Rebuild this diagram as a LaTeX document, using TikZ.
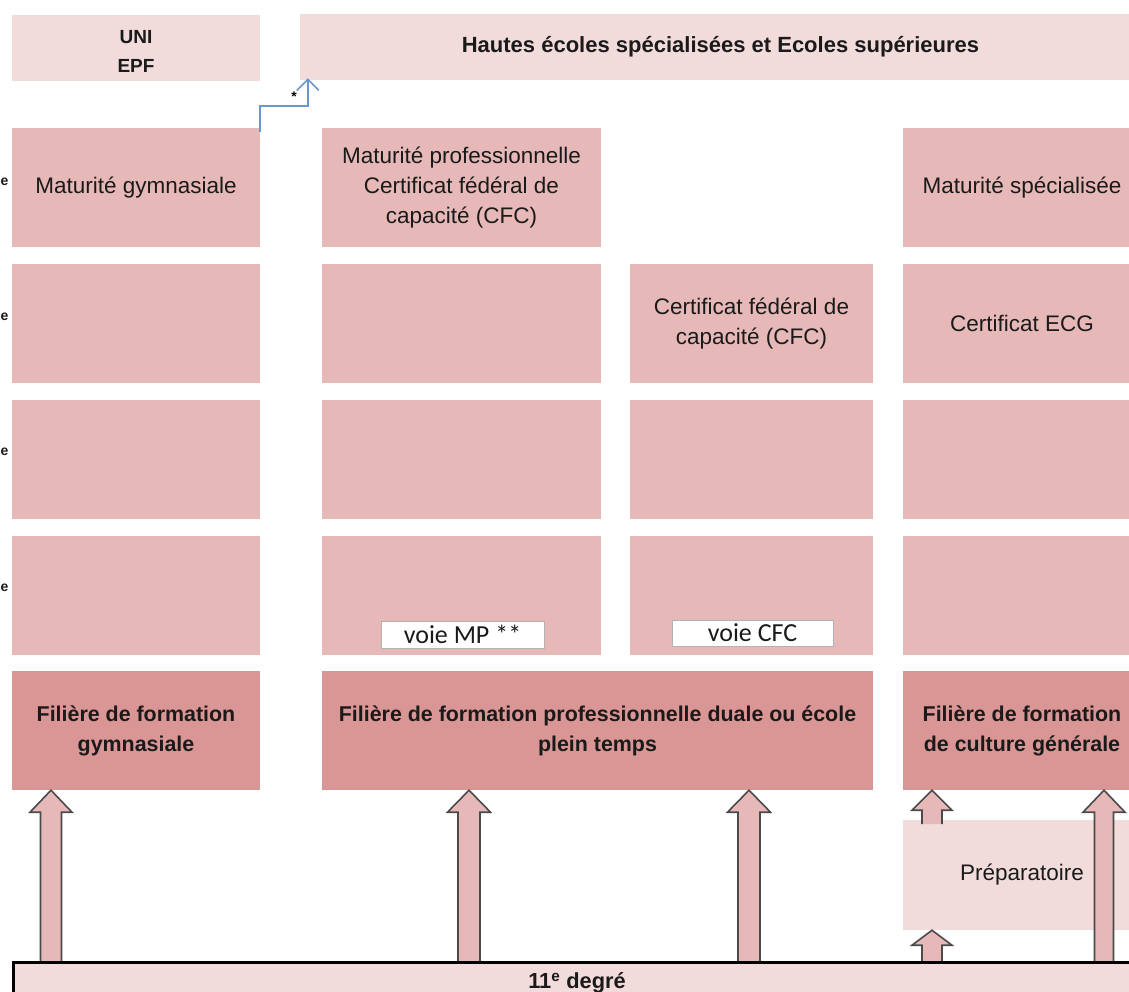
\documentclass[tikz,border=0pt]{standalone}
\usepackage{fontspec}
\setmainfont{Liberation Sans}
\newfontfamily\calib{Carlito}
\usetikzlibrary{calc,arrows.meta}
\definecolor{lightpk}{HTML}{F2DCDB}
\definecolor{midpk}{HTML}{E6B9B8}
\definecolor{darkpk}{HTML}{DA9694}
\definecolor{txt}{HTML}{1A1A1A}
\definecolor{bluel}{HTML}{6A96CF}
\definecolor{arrline}{HTML}{4A4A4A}
\newcommand\blockarr[5]{%
  \draw[blockst] let \p1=(#1), \p2=(#2) in
    (\x1-#3pt,\y1) -- (\x1-#3pt,\y2-#5pt) -- (\x1-#4pt,\y2-#5pt) -- (\x1,\y2)
    -- (\x1+#4pt,\y2-#5pt) -- (\x1+#3pt,\y2-#5pt) -- (\x1+#3pt,\y1);}
\begin{document}
\begin{tikzpicture}[x=1pt,y=-1pt,
  cell/.style={fill=midpk, draw=none, inner sep=0pt, align=center, text=txt,
    font=\fontsize{22.5}{30}\selectfont},
  lcell/.style={cell, fill=lightpk},
  dcell/.style={cell, fill=darkpk, font=\fontsize{21.4}{30}\selectfont\bfseries},
  tag/.style={fill=white, draw=gray!60, line width=1pt, inner sep=0pt, text=txt,
    font=\calib\fontsize{26}{26}\selectfont},
  blockst/.style={fill=midpk, draw=arrline, line width=1.6pt, line join=miter},
  yearmark/.style={font=\fontsize{14}{14}\selectfont\bfseries, text=txt, inner sep=0pt, anchor=west}]
\useasboundingbox (0,0) rectangle (1129,992);
% top row
\node[lcell, minimum width=248, minimum height=66] (uni) at (136,48) {};
\node[font=\fontsize{19}{29}\selectfont\bfseries, text=txt, align=center, inner sep=0pt] (unitxt) at (136,51) {UNI\\EPF};
\node[lcell, minimum width=841, minimum height=66, font=\fontsize{22}{28}\selectfont\bfseries] (hes) at (720.5,47) {Hautes écoles spécialisées et Ecoles supérieures};
% row 1
\node[cell, minimum width=248, minimum height=119] (mg) at (136,187.5) {Maturité gymnasiale};
\node[cell, minimum width=279, minimum height=119] (mp) at (461.5,187.5) {Maturité professionnelle\\Certificat fédéral de\\capacité (CFC)};
\node[cell, minimum width=238, minimum height=119] (ms) at (1022,187.5) {Maturité spécialisée};
% row 2
\node[cell, minimum width=248, minimum height=119] (a2) at (136,323.5) {};
\node[cell, minimum width=279, minimum height=119] (b2) at (461.5,323.5) {};
\node[cell, minimum width=243, minimum height=119] (cfc) at (751.5,323.5) {Certificat fédéral de\\capacité (CFC)};
\node[cell, minimum width=238, minimum height=119] (ecg) at (1022,323.5) {Certificat ECG};
% row 3
\node[cell, minimum width=248, minimum height=119] (a3) at (136,459.5) {};
\node[cell, minimum width=279, minimum height=119] (b3) at (461.5,459.5) {};
\node[cell, minimum width=243, minimum height=119] (c3) at (751.5,459.5) {};
\node[cell, minimum width=238, minimum height=119] (d3) at (1022,459.5) {};
% row 4
\node[cell, minimum width=248, minimum height=119] (a4) at (136,595.5) {};
\node[cell, minimum width=279, minimum height=119] (b4) at (461.5,595.5) {};
\node[cell, minimum width=243, minimum height=119] (c4) at (751.5,595.5) {};
\node[cell, minimum width=238, minimum height=119] (d4) at (1022,595.5) {};
\node[tag, minimum width=163, minimum height=27] (vmp) at (462.5,634.5) {voie MP **};
\node[tag, minimum width=161, minimum height=26] (vcfc) at (752.5,633) {voie CFC};
% row 5
\node[dcell, minimum width=248, minimum height=119] (ga) at (136,730.5) {Filière de formation\\gymnasiale};
\node[dcell, minimum width=551, minimum height=119] (gb) at (597.5,730.5) {Filière de formation professionnelle duale ou école\\plein temps};
\node[dcell, minimum width=238, minimum height=119] (gd) at (1022,730.5) {Filière de formation\\de culture générale};
% preparatoire
\node[lcell, minimum width=238, minimum height=110] (prep) at (1022,875) {Préparatoire};
% left marks
\node[yearmark] (m1) at (0.5,182) {e};
\node[yearmark] (m2) at (0.5,317) {e};
\node[yearmark] (m3) at (0.5,452) {e};
\node[yearmark] (m4) at (0.5,588) {e};
% block arrows
\coordinate (degtop) at (0,961);
\blockarr{51,0 |- degtop}{51,0 |- ga.south}{10.5}{21}{22}
\blockarr{469,0 |- degtop}{469,0 |- gb.south}{11}{21.5}{22}
\blockarr{749,0 |- degtop}{749,0 |- gb.south}{11}{21.5}{22}
\blockarr{1104,0 |- degtop}{1104,0 |- gd.south}{9.5}{21}{22}
\blockarr{932,824}{932,0 |- gd.south}{10}{20}{20}
\blockarr{932,0 |- degtop}{932,0 |- prep.south}{10}{20}{15}
% 11e degre
\node[lcell, draw=black, line width=2.5pt, minimum width=1129, minimum height=50, anchor=north west] (deg) at (12,961) {};
\node[font=\fontsize{21.8}{24}\selectfont\bfseries, text=txt, inner sep=0pt] (degt) at (577,983) {11\textsuperscript{e} degré};
% blue step arrow
\draw[bluel, line width=1.6pt, -{Straight Barb[length=11pt,width=22pt,line width=1.6pt]}]
  (mg.north east) ++(0,4) coordinate (s0) -- ++(0,-26) -| ($(hes.south west)+(8,-2)$);
\node[font=\fontsize{14}{14}\selectfont\bfseries, inner sep=0pt] (star) at (294,97) {*};
\end{tikzpicture}
\end{document}
